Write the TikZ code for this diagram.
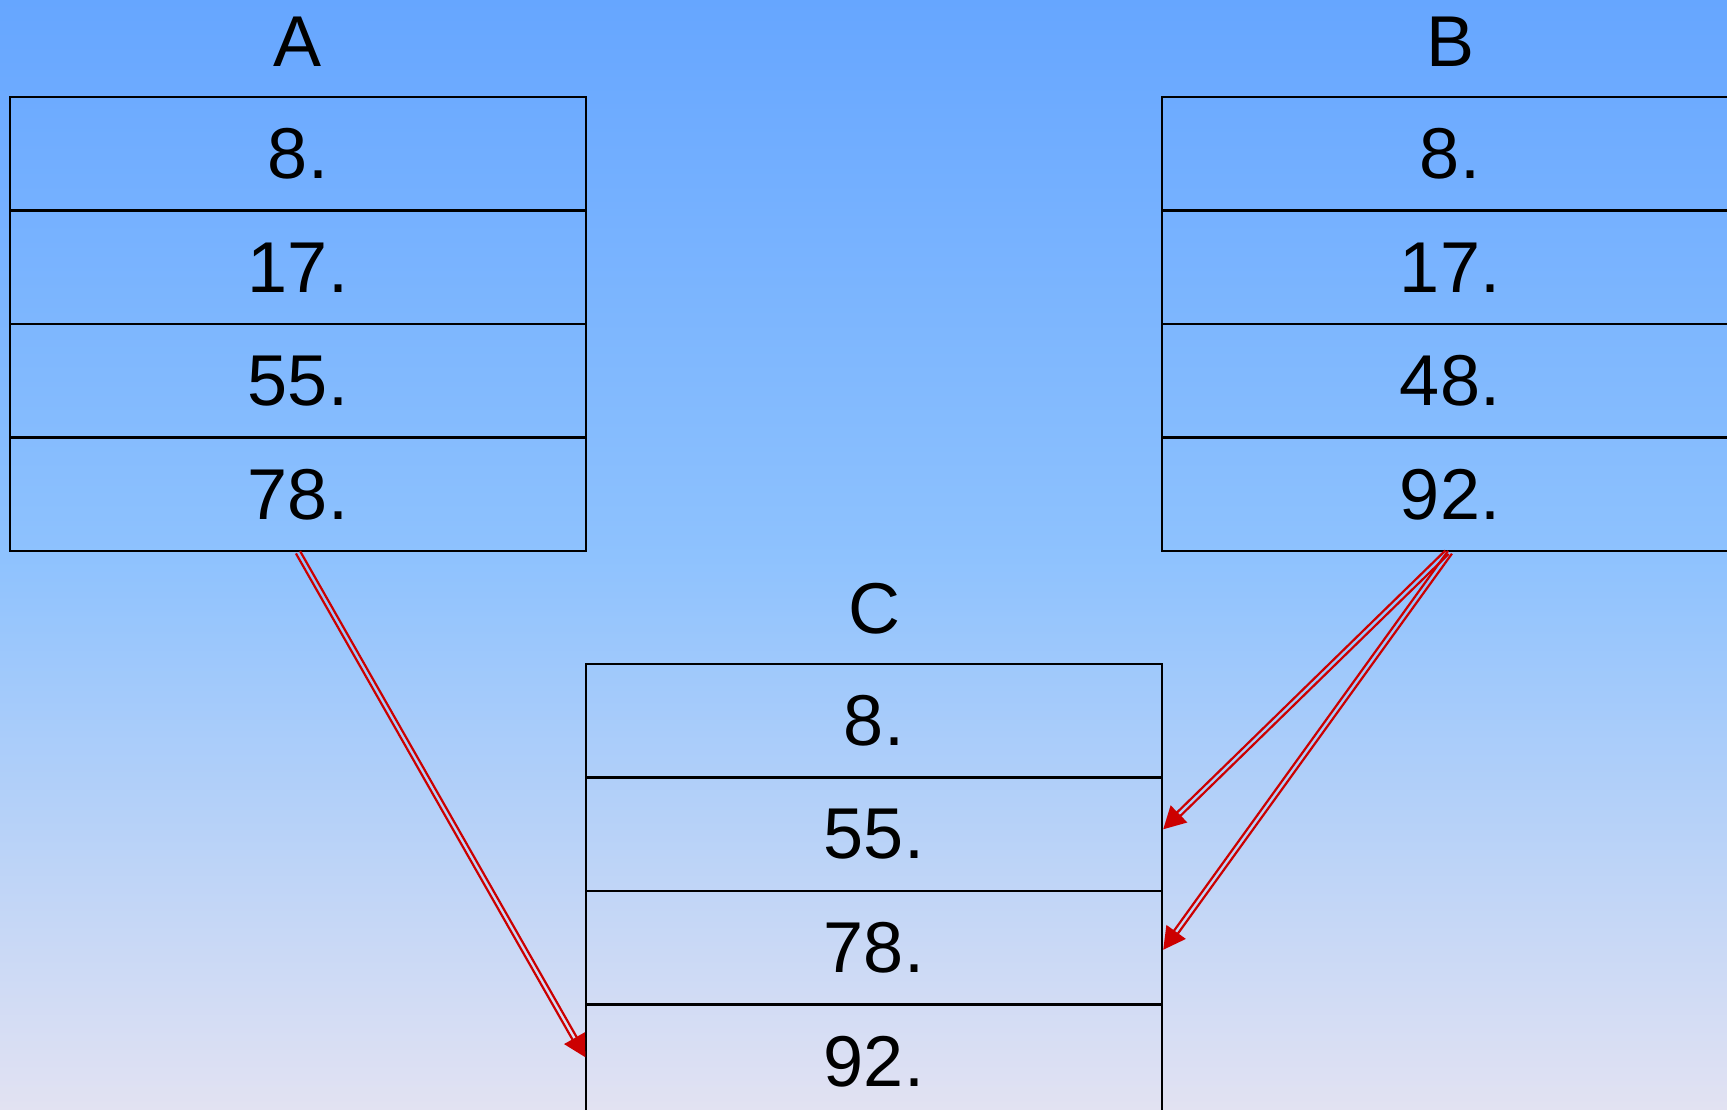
\documentclass[tikz,border=0pt]{standalone}
\usepackage{fontspec}
\setmainfont{Liberation Sans}
\usetikzlibrary{calc,arrows.meta}
\definecolor{bgtop}{RGB}{102,166,255}
\definecolor{bgmid}{RGB}{142,194,254}
\definecolor{bgbot}{RGB}{226,226,242}
\definecolor{arrred}{RGB}{204,0,0}
\tikzset{
  cell/.style={draw=black, line width=2.5pt, minimum width=576pt, minimum height=113.5pt,
    inner sep=0pt, font=\fontsize{72}{80}\selectfont, text=black},
  lastcell/.style={cell, line width=1.3pt},
  title/.style={font=\fontsize{72}{80}\selectfont, inner sep=0pt, text=black},
  rail/.style={draw=arrred, line width=2.2pt},
  headfill/.style={fill=arrred}
}
\newcommand\dblarrow[2]{%
  \coordinate (pp) at (#1);
  \coordinate (tt) at (#2);
  \coordinate (qq) at ($(tt)!20pt!(pp)$);
  \coordinate (mm) at ($(tt)!22pt!(pp)$);
  \draw[rail] ($(pp)!2.4pt!90:(qq)$) -- ($(qq)!2.4pt!-90:(pp)$);
  \draw[rail] ($(pp)!2.4pt!-90:(qq)$) -- ($(qq)!2.4pt!90:(pp)$);
  \fill[headfill] (tt) -- ($(mm)!12pt!90:(tt)$) -- ($(mm)!12pt!-90:(tt)$) -- cycle;
}
\begin{document}
\begin{tikzpicture}[x=1pt, y=-1pt]
  \useasboundingbox (0,0) rectangle (1727,1110);
  \fill[top color=bgtop, bottom color=bgbot, middle color=bgmid] (0,0) rectangle (1727,1110);

  % titles
  \node[title] (tA) at (298,42) {A};
  \node[title] (tB) at (1450,42) {B};
  \node[title] (tC) at (874,609) {C};

  % column A
  \node[cell] (A1) at (298,153.75) {8.};
  \node[cell] (A2) at (298,267.25) {17.};
  \node[cell] (A3) at (298,380.75) {55.};
  \node[cell] (A4) at (298,494.25) {78.};

  % column B
  \node[cell] (B1) at (1450,153.75) {8.};
  \node[cell] (B2) at (1450,267.25) {17.};
  \node[cell] (B3) at (1450,380.75) {48.};
  \node[cell] (B4) at (1450,494.25) {92.};

  % column C
  \node[lastcell] (C4) at (874,1061.25) {92.};
  \node[cell] (C1) at (874,720.75) {8.};
  \node[cell] (C2) at (874,834.25) {55.};
  \node[cell] (C3) at (874,947.75) {78.};

  % arrows
  \dblarrow{A4.south}{$(C4.west)+(0,-4)$}
  \dblarrow{$(B4.south)+(-3,0)$}{$(C2.east)+(0,-5)$}
  \dblarrow{B4.south}{$(C3.east)+(0,2)$}
\end{tikzpicture}
\end{document}
